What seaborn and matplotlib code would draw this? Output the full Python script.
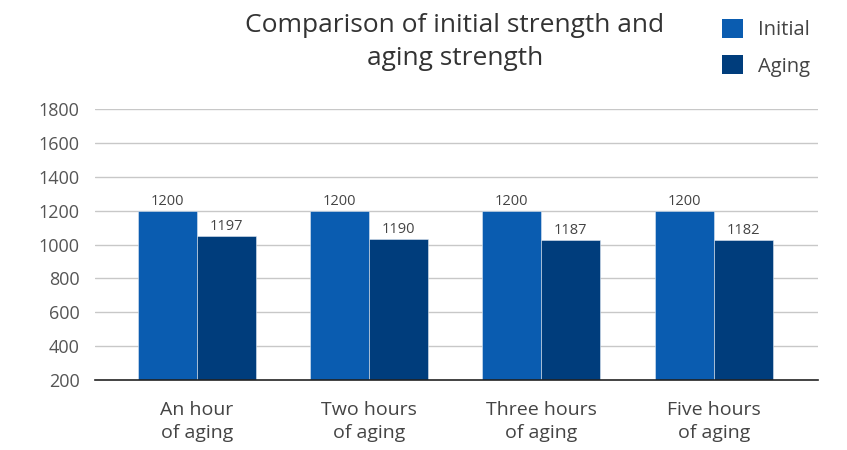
import matplotlib
matplotlib.use("Agg")
import matplotlib.pyplot as plt
import seaborn as sns
import pandas as pd
from matplotlib.patches import Patch

categories = ["An hour\nof aging", "Two hours\nof aging", "Three hours\nof aging", "Five hours\nof aging"]
series_names = ["Initial", "Aging"]
initial_values = [1200, 1200, 1200, 1200]
aging_values = [1053, 1035, 1030, 1029]          # drawn bar heights
initial_labels = ["1200", "1200", "1200", "1200"]
aging_labels = ["1197", "1190", "1187", "1182"]  # data labels printed on the chart
y_ticks = [200, 400, 600, 800, 1000, 1200, 1400, 1600, 1800]

colors = ["#0A5CB0", "#003D7C"]

sns.set_theme(style="white")
plt.rcParams["font.family"] = ["Open Sans", "DejaVu Sans"]

df = pd.DataFrame({
    "category": categories * 2,
    "series": [series_names[0]] * 4 + [series_names[1]] * 4,
    "value": initial_values + aging_values,
})

fig = plt.figure(figsize=(8.47, 4.5), dpi=100)
ax = fig.add_axes([95 / 847, 1 - 380 / 450, (818 - 95) / 847, (380 - 109.3) / 450])

sns.barplot(data=df, x="category", y="value", hue="series", palette=colors,
            width=0.685, gap=0, saturation=1, ax=ax, legend=False, zorder=3,
            edgecolor="#dfe8f2", linewidth=0.4)

ax.set_ylim(200, 1800)
ax.set_xlim(-0.59, 3.605)
ax.set_yticks(y_ticks)
ax.set_yticklabels([str(t) for t in y_ticks], fontsize=13, color="#555555")
ax.tick_params(axis="x", labelsize=14, colors="#444444", length=0, pad=15)
ax.tick_params(axis="y", length=0, pad=11)
for lab in ax.get_xticklabels():
    lab.set_linespacing(1.35)
ax.set_xlabel("")
ax.set_ylabel("")
for t in y_ticks[1:]:
    ax.axhline(t, color="#c8c8c8", linewidth=1, zorder=1)
for s in ["left", "right", "top"]:
    ax.spines[s].set_visible(False)
ax.spines["bottom"].set_color("#222222")
ax.spines["bottom"].set_linewidth(1.2)
ax.spines["bottom"].set_zorder(4)

for cont, labs in zip(ax.containers, [initial_labels, aging_labels]):
    ax.bar_label(cont, labels=labs, fontsize=10.5, color="#444444", padding=1)

fig.text(455 / 847, 1 - 42 / 450, "Comparison of initial strength and\naging strength",
         ha="center", va="center", fontsize=19, color="#333333", linespacing=1.45)

handles = [Patch(facecolor=c, edgecolor="none") for c in colors]
fig.legend(handles, series_names, loc="upper left", bbox_to_anchor=(704 / 847, 1 - 1 / 450),
           frameon=False, fontsize=14.5, handlelength=1.05, handleheight=1.05,
           handletextpad=0.75, labelspacing=0.75, labelcolor="#444444")

fig.savefig("out.png", dpi=100)
